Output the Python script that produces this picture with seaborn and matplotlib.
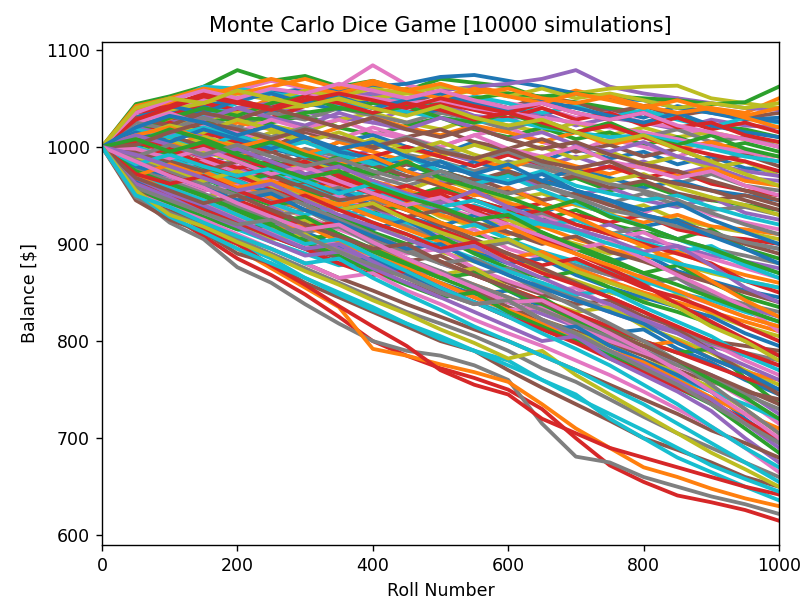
import seaborn as sns
import matplotlib.pyplot as plt
import pandas as pd

# Roll checkpoints (every 50 rolls) and balances of representative walks
rolls = list(range(0, 1001, 50))

# walks along the upper edge of the fan
upper_walks = [
    [1000, 1044, 1052, 1062, 1079, 1068, 1073, 1062, 1068, 1058, 1070, 1066, 1062, 1050, 1046, 1040, 1035, 1030, 1022, 1018, 1010],
    [1000, 1030, 1040, 1048, 1055, 1058, 1050, 1062, 1084, 1064, 1055, 1050, 1045, 1040, 1030, 1035, 1025, 1020, 1012, 1008, 1000],
    [1000, 1020, 1035, 1042, 1050, 1055, 1060, 1058, 1062, 1065, 1072, 1074, 1068, 1062, 1055, 1050, 1048, 1040, 1035, 1030, 1026],
    [1000, 1015, 1025, 1030, 1040, 1045, 1048, 1052, 1055, 1050, 1058, 1062, 1065, 1070, 1079, 1062, 1055, 1050, 1045, 1040, 1038],
    [1000, 1010, 1022, 1028, 1035, 1040, 1042, 1048, 1050, 1055, 1052, 1058, 1055, 1050, 1055, 1060, 1062, 1063, 1050, 1045, 1040],
    [1000, 1012, 1018, 1025, 1030, 1028, 1035, 1040, 1045, 1042, 1048, 1050, 1055, 1052, 1055, 1052, 1050, 1048, 1044, 1046, 1062],
    [1000, 1025, 1040, 1050, 1058, 1068, 1060, 1055, 1050, 1045, 1048, 1040, 1035, 1030, 1025, 1020, 1015, 1008, 1000, 995, 990],
    [1000, 1030, 1045, 1062, 1060, 1055, 1050, 1044, 1040, 1036, 1030, 1025, 1028, 1020, 1015, 1010, 1012, 1005, 998, 990, 985],
]

# walks along the lower edge of the fan
lower_walks = [
    [1000, 955, 930, 908, 885, 868, 848, 825, 800, 785, 772, 762, 750, 730, 700, 672, 655, 641, 634, 626, 615],
    [1000, 950, 922, 905, 876, 860, 838, 818, 800, 790, 785, 775, 760, 715, 681, 675, 660, 650, 640, 632, 622],
    [1000, 960, 935, 915, 895, 875, 855, 835, 792, 785, 776, 768, 758, 735, 710, 690, 670, 660, 648, 638, 630],
    [1000, 945, 925, 912, 890, 880, 860, 845, 830, 815, 800, 790, 770, 752, 735, 718, 700, 688, 675, 660, 650],
    [1000, 965, 940, 920, 900, 885, 865, 850, 835, 818, 805, 790, 780, 760, 745, 720, 700, 680, 665, 650, 636],
    [1000, 958, 935, 915, 900, 878, 858, 836, 815, 795, 770, 755, 745, 720, 705, 690, 680, 670, 660, 650, 642],
]

# walks through the body of the fan
inner_walks = [
    [1000, 1012, 1030, 1025, 1040, 1035, 1045, 1038, 1050, 1042, 1035, 1048, 1040, 1032, 1045, 1038, 1030, 1042, 1035, 1028, 1030],
    [1000, 1022, 1015, 1035, 1028, 1042, 1036, 1030, 1025, 1040, 1045, 1032, 1028, 1035, 1022, 1030, 1025, 1018, 1028, 1022, 1020],
    [1000, 1005, 1020, 1012, 1030, 1022, 1015, 1028, 1035, 1025, 1018, 1030, 1022, 1015, 1025, 1012, 1020, 1010, 1015, 1008, 1005],
    [1000, 990, 1005, 1018, 1010, 1025, 1032, 1020, 1012, 1022, 1030, 1018, 1010, 1020, 1008, 1015, 1002, 1010, 998, 1004, 995],
    [1000, 1018, 1008, 1000, 1015, 1005, 1020, 1028, 1015, 1008, 1000, 1012, 1020, 1005, 995, 1008, 1000, 990, 1002, 992, 985],
    [1000, 995, 985, 1000, 1010, 998, 990, 1005, 1012, 1000, 992, 1005, 995, 985, 998, 988, 995, 982, 990, 978, 975],
    [1000, 1008, 1020, 1010, 998, 1005, 995, 985, 998, 1008, 995, 985, 992, 980, 990, 978, 985, 972, 980, 968, 965],
    [1000, 985, 995, 1008, 995, 985, 998, 990, 980, 992, 985, 975, 985, 978, 968, 980, 970, 962, 972, 960, 955],
    [1000, 1002, 990, 980, 995, 1002, 988, 978, 990, 982, 970, 985, 975, 965, 978, 968, 958, 965, 955, 950, 945],
    [1000, 990, 1000, 988, 975, 985, 978, 990, 980, 968, 975, 965, 972, 960, 968, 955, 962, 950, 945, 940, 935],
    [1000, 1010, 998, 990, 1002, 990, 980, 972, 985, 975, 965, 958, 970, 960, 950, 958, 945, 938, 948, 932, 925],
    [1000, 985, 975, 990, 980, 968, 978, 965, 958, 970, 960, 950, 958, 945, 952, 940, 932, 945, 930, 922, 915],
    [1000, 995, 1008, 995, 985, 972, 985, 975, 962, 955, 968, 955, 945, 952, 940, 932, 940, 925, 918, 912, 905],
    [1000, 980, 992, 978, 970, 982, 968, 955, 965, 950, 942, 955, 940, 932, 945, 930, 918, 925, 910, 902, 895],
    [1000, 1005, 992, 1000, 985, 975, 962, 972, 958, 948, 958, 945, 935, 925, 935, 920, 912, 905, 915, 895, 885],
    [1000, 988, 975, 965, 978, 962, 955, 945, 958, 942, 935, 925, 938, 922, 912, 920, 905, 898, 888, 882, 875],
    [1000, 992, 1002, 988, 975, 965, 972, 958, 945, 952, 938, 928, 918, 930, 915, 905, 912, 895, 885, 875, 865],
    [1000, 975, 965, 978, 962, 950, 958, 942, 932, 945, 928, 918, 925, 910, 900, 890, 898, 880, 870, 862, 855],
    [1000, 1000, 985, 975, 968, 955, 945, 955, 940, 928, 918, 930, 912, 902, 895, 882, 890, 872, 862, 852, 845],
    [1000, 985, 995, 978, 965, 972, 955, 945, 932, 940, 922, 910, 902, 912, 895, 882, 870, 878, 860, 845, 835],
    [1000, 978, 968, 955, 962, 948, 935, 928, 938, 920, 910, 898, 905, 888, 878, 868, 858, 865, 845, 835, 825],
    [1000, 992, 978, 985, 970, 955, 942, 950, 932, 918, 908, 915, 895, 885, 875, 862, 868, 850, 838, 825, 815],
    [1000, 970, 960, 948, 955, 940, 928, 915, 922, 905, 892, 882, 890, 872, 862, 850, 842, 848, 828, 815, 805],
    [1000, 988, 975, 962, 950, 958, 940, 928, 915, 925, 905, 892, 880, 885, 868, 855, 845, 835, 825, 808, 795],
    [1000, 975, 985, 968, 952, 940, 945, 928, 912, 900, 908, 890, 875, 865, 872, 855, 840, 830, 818, 800, 785],
    [1000, 965, 952, 945, 930, 938, 920, 905, 892, 898, 880, 868, 855, 860, 842, 830, 818, 808, 795, 785, 775],
    [1000, 982, 968, 955, 960, 942, 928, 915, 902, 890, 895, 875, 862, 850, 855, 835, 822, 810, 798, 780, 765],
    [1000, 972, 960, 945, 932, 920, 925, 908, 895, 880, 868, 875, 855, 842, 830, 835, 815, 802, 788, 770, 755],
    [1000, 968, 955, 940, 925, 930, 912, 898, 885, 872, 860, 848, 852, 835, 820, 808, 812, 792, 778, 760, 745],
    [1000, 975, 962, 948, 932, 918, 905, 910, 892, 878, 865, 852, 840, 845, 825, 812, 800, 788, 792, 762, 735],
    [1000, 962, 948, 935, 940, 922, 908, 895, 880, 868, 872, 855, 840, 828, 815, 802, 790, 778, 765, 748, 725],
    [1000, 970, 958, 942, 928, 912, 898, 902, 885, 870, 858, 845, 832, 835, 815, 800, 788, 775, 760, 740, 715],
    [1000, 958, 945, 932, 918, 905, 910, 892, 878, 865, 850, 838, 842, 822, 808, 795, 780, 768, 752, 730, 705],
    [1000, 965, 950, 938, 922, 908, 895, 880, 885, 868, 852, 840, 825, 812, 815, 795, 780, 765, 748, 720, 695],
    [1000, 955, 942, 928, 915, 920, 902, 888, 872, 858, 845, 850, 830, 815, 800, 785, 770, 752, 735, 710, 685],
    [1000, 962, 948, 932, 918, 902, 888, 892, 875, 860, 845, 830, 815, 800, 805, 782, 765, 748, 728, 700, 675],
    [1000, 952, 938, 925, 910, 895, 880, 865, 870, 852, 838, 822, 808, 795, 780, 765, 748, 730, 712, 690, 665],
    [1000, 1025, 1038, 1045, 1055, 1048, 1058, 1052, 1060, 1055, 1062, 1058, 1052, 1060, 1050, 1055, 1048, 1040, 1045, 1040, 1045],
    [1000, 1030, 1042, 1035, 1048, 1055, 1045, 1052, 1040, 1048, 1055, 1045, 1038, 1048, 1040, 1032, 1025, 1035, 1022, 1015, 1010],
    [1000, 1015, 1030, 1040, 1032, 1045, 1052, 1040, 1035, 1042, 1030, 1025, 1035, 1022, 1015, 1025, 1010, 1002, 1012, 998, 990],
    [1000, 1020, 1012, 1028, 1040, 1030, 1022, 1035, 1025, 1018, 1030, 1020, 1008, 1015, 1002, 995, 1005, 990, 982, 975, 970],
    [1000, 1025, 1035, 1022, 1015, 1028, 1018, 1008, 1020, 1010, 1000, 1012, 998, 990, 1000, 985, 978, 968, 975, 960, 950],
    [1000, 1010, 1022, 1015, 1028, 1018, 1005, 1015, 1002, 995, 1005, 992, 982, 990, 975, 965, 972, 958, 948, 940, 930],
    [1000, 1015, 1005, 1018, 1008, 998, 1010, 995, 988, 975, 985, 970, 962, 972, 955, 945, 935, 942, 925, 912, 900],
    [1000, 1005, 1018, 1008, 995, 1005, 992, 982, 972, 985, 968, 958, 948, 935, 945, 928, 918, 905, 895, 882, 870],
    [1000, 1012, 1002, 990, 998, 985, 972, 980, 965, 952, 942, 955, 938, 925, 915, 905, 892, 898, 878, 855, 840],
    [1000, 998, 988, 998, 985, 972, 980, 965, 952, 940, 948, 932, 920, 908, 895, 902, 885, 868, 852, 835, 810],
    [1000, 990, 978, 965, 975, 960, 948, 935, 942, 925, 912, 900, 905, 888, 872, 860, 848, 835, 815, 800, 780],
    [1000, 980, 970, 958, 945, 952, 935, 922, 908, 895, 900, 882, 868, 855, 842, 830, 818, 798, 782, 768, 750],
    [1000, 975, 962, 950, 935, 922, 928, 910, 895, 880, 865, 870, 852, 838, 822, 808, 795, 780, 760, 742, 720],
    [1000, 968, 952, 940, 925, 910, 895, 900, 882, 865, 850, 838, 842, 822, 805, 790, 775, 758, 740, 715, 690],
    [1000, 1035, 1048, 1058, 1050, 1060, 1055, 1065, 1058, 1050, 1058, 1048, 1040, 1045, 1035, 1028, 1035, 1022, 1015, 1008, 1000],
    [1000, 1040, 1050, 1045, 1058, 1050, 1042, 1050, 1040, 1032, 1042, 1030, 1022, 1028, 1015, 1005, 1012, 998, 985, 972, 960],
    [1000, 1020, 1032, 1025, 1012, 1022, 1010, 998, 1005, 990, 980, 972, 982, 965, 955, 945, 930, 922, 908, 895, 880],
    [1000, 1008, 995, 1005, 992, 980, 968, 975, 960, 948, 938, 925, 930, 912, 898, 885, 870, 858, 845, 832, 820],
    [1000, 992, 980, 968, 955, 962, 945, 930, 918, 905, 892, 898, 880, 865, 850, 838, 822, 808, 790, 775, 760],
    [1000, 985, 970, 958, 942, 928, 915, 920, 902, 885, 870, 855, 840, 842, 825, 808, 790, 770, 748, 725, 700],
    [1000, 955, 930, 918, 902, 888, 872, 858, 842, 828, 812, 798, 782, 790, 765, 745, 725, 705, 685, 668, 650],
]

# further walks filling the body of the fan
more_walks = [
    [1000, 1020, 1028, 1040, 1035, 1050, 1058, 1045, 1052, 1060, 1050, 1062, 1055, 1048, 1058, 1050, 1042, 1050, 1040, 1035, 1050],
    [1000, 1008, 1025, 1038, 1048, 1040, 1052, 1060, 1050, 1045, 1055, 1048, 1040, 1052, 1045, 1035, 1042, 1032, 1038, 1030, 1035],
    [1000, 1028, 1020, 1032, 1045, 1058, 1050, 1042, 1055, 1048, 1040, 1052, 1045, 1035, 1042, 1030, 1038, 1028, 1020, 1030, 1025],
    [1000, 1015, 1032, 1045, 1038, 1030, 1042, 1050, 1040, 1035, 1045, 1038, 1030, 1040, 1028, 1035, 1022, 1030, 1018, 1025, 1015],
    [1000, 1002, 1015, 1008, 1020, 1035, 1028, 1040, 1032, 1025, 1035, 1028, 1018, 1028, 1015, 1022, 1010, 1018, 1005, 1010, 1000],
    [1000, 1012, 1000, 1012, 1025, 1018, 1008, 1020, 1030, 1020, 1012, 1022, 1015, 1005, 1015, 1002, 1010, 998, 1005, 995, 990],
    [1000, 995, 1010, 1022, 1012, 1000, 1015, 1008, 998, 1010, 1018, 1005, 998, 1008, 995, 1002, 990, 998, 985, 992, 980],
    [1000, 1005, 995, 1010, 1002, 1015, 1005, 995, 1008, 998, 990, 1002, 992, 1000, 988, 995, 982, 990, 978, 985, 970],
    [1000, 992, 1005, 995, 988, 1000, 992, 1005, 995, 985, 995, 988, 978, 990, 980, 972, 982, 970, 978, 965, 960],
    [1000, 1015, 1025, 1015, 1005, 995, 1008, 998, 990, 1000, 990, 980, 992, 982, 972, 980, 968, 975, 962, 955, 950],
    [1000, 980, 990, 1000, 990, 978, 990, 980, 970, 982, 975, 965, 975, 962, 970, 958, 965, 952, 945, 950, 940],
    [1000, 998, 985, 975, 988, 978, 968, 980, 970, 960, 970, 962, 952, 960, 950, 942, 952, 940, 935, 938, 930],
    [1000, 1020, 1010, 1000, 1012, 1000, 990, 998, 985, 975, 985, 972, 965, 975, 960, 952, 945, 950, 938, 928, 920],
    [1000, 975, 985, 972, 962, 975, 965, 955, 965, 955, 945, 952, 942, 935, 942, 930, 922, 930, 918, 915, 910],
    [1000, 990, 978, 990, 978, 968, 955, 968, 958, 948, 955, 945, 935, 942, 930, 922, 930, 915, 908, 905, 900],
    [1000, 1002, 1012, 1000, 988, 995, 982, 972, 982, 970, 960, 968, 955, 945, 952, 940, 930, 922, 912, 900, 890],
    [1000, 982, 972, 962, 972, 960, 950, 958, 945, 935, 945, 932, 925, 932, 920, 910, 918, 905, 895, 888, 880],
    [1000, 995, 982, 972, 962, 972, 960, 948, 955, 942, 932, 940, 928, 918, 925, 912, 902, 892, 898, 880, 870],
    [1000, 970, 980, 968, 958, 948, 958, 945, 935, 942, 930, 920, 910, 918, 905, 895, 885, 892, 878, 868, 860],
    [1000, 1010, 1000, 990, 978, 985, 972, 962, 952, 960, 948, 938, 928, 935, 920, 910, 900, 890, 880, 862, 850],
    [1000, 985, 972, 982, 968, 955, 962, 950, 938, 928, 935, 922, 912, 900, 908, 892, 882, 870, 860, 850, 840],
    [1000, 968, 958, 948, 958, 945, 935, 925, 932, 918, 905, 895, 902, 888, 878, 868, 858, 865, 848, 838, 830],
    [1000, 1000, 988, 975, 965, 952, 960, 945, 932, 922, 912, 920, 905, 892, 882, 872, 862, 850, 842, 830, 820],
    [1000, 978, 965, 975, 960, 948, 935, 942, 928, 915, 902, 895, 885, 892, 875, 862, 850, 840, 830, 820, 810],
    [1000, 990, 998, 982, 970, 958, 945, 935, 942, 928, 915, 902, 890, 878, 885, 870, 855, 845, 832, 815, 800],
    [1000, 960, 950, 940, 928, 935, 922, 908, 895, 882, 888, 872, 860, 848, 838, 842, 825, 812, 800, 795, 790],
    [1000, 975, 962, 950, 940, 928, 935, 918, 905, 892, 880, 868, 875, 858, 845, 832, 820, 810, 798, 788, 780],
    [1000, 992, 980, 968, 955, 942, 930, 938, 922, 910, 898, 885, 872, 860, 848, 852, 835, 820, 805, 785, 770],
    [1000, 965, 955, 942, 932, 918, 905, 892, 898, 882, 870, 858, 845, 832, 820, 808, 795, 800, 782, 768, 760],
    [1000, 985, 972, 958, 945, 932, 918, 922, 908, 895, 882, 868, 855, 842, 828, 815, 800, 788, 775, 762, 750],
    [1000, 958, 948, 935, 922, 910, 898, 885, 872, 860, 848, 852, 835, 822, 810, 798, 785, 770, 758, 748, 740],
    [1000, 978, 965, 952, 938, 925, 912, 918, 900, 885, 872, 858, 845, 832, 818, 805, 790, 775, 762, 745, 730],
    [1000, 950, 940, 928, 915, 902, 890, 878, 882, 865, 852, 840, 828, 815, 802, 788, 775, 762, 748, 735, 720],
    [1000, 972, 958, 945, 930, 915, 920, 902, 888, 875, 860, 845, 832, 818, 805, 790, 778, 760, 742, 725, 710],
    [1000, 962, 950, 935, 922, 908, 895, 880, 868, 872, 855, 840, 825, 812, 798, 782, 768, 752, 738, 718, 700],
    [1000, 955, 935, 922, 908, 895, 880, 865, 852, 838, 825, 812, 800, 785, 770, 755, 740, 725, 708, 695, 680],
    [1000, 948, 932, 918, 905, 890, 875, 860, 845, 830, 818, 805, 790, 772, 758, 740, 722, 705, 690, 675, 660],
    [1000, 952, 928, 912, 895, 880, 865, 848, 832, 818, 802, 790, 775, 760, 742, 725, 708, 690, 672, 658, 645],
    [1000, 1038, 1045, 1052, 1062, 1070, 1062, 1055, 1065, 1058, 1050, 1060, 1052, 1045, 1055, 1048, 1040, 1048, 1038, 1032, 1040],
    [1000, 1035, 1042, 1055, 1048, 1040, 1052, 1045, 1035, 1045, 1038, 1028, 1035, 1025, 1015, 1022, 1010, 1000, 992, 985, 975],
    [1000, 1030, 1022, 1035, 1028, 1040, 1030, 1020, 1030, 1018, 1010, 1020, 1008, 998, 1005, 992, 982, 975, 965, 955, 945],
    [1000, 1025, 1018, 1030, 1020, 1010, 1020, 1008, 1000, 1010, 998, 988, 995, 982, 972, 962, 955, 945, 932, 920, 910],
    [1000, 1018, 1010, 1020, 1010, 998, 1005, 992, 982, 990, 975, 962, 970, 955, 942, 930, 918, 905, 892, 878, 865],
    [1000, 1012, 1020, 1008, 1000, 1008, 995, 982, 990, 975, 962, 950, 958, 942, 928, 912, 898, 882, 862, 842, 825],
    [1000, 1005, 995, 1002, 990, 978, 985, 970, 958, 945, 952, 935, 920, 905, 890, 875, 858, 838, 820, 802, 785],
    [1000, 995, 985, 975, 985, 970, 958, 945, 950, 935, 920, 905, 890, 875, 860, 845, 830, 812, 790, 768, 745],
    [1000, 988, 975, 962, 950, 955, 940, 925, 910, 895, 880, 885, 868, 852, 835, 818, 800, 780, 755, 730, 705],
    [1000, 975, 958, 945, 930, 915, 900, 905, 888, 872, 855, 840, 825, 808, 792, 775, 755, 735, 712, 690, 670],
    [1000, 1042, 1050, 1060, 1055, 1062, 1070, 1060, 1068, 1058, 1065, 1055, 1060, 1050, 1045, 1052, 1042, 1035, 1040, 1030, 1020],
    [1000, 1028, 1040, 1052, 1045, 1038, 1048, 1055, 1048, 1040, 1050, 1042, 1035, 1045, 1035, 1028, 1035, 1020, 1025, 1012, 1005],
    [1000, 1002, 1015, 1025, 1018, 1008, 1018, 1010, 1000, 1008, 995, 988, 998, 985, 978, 985, 970, 962, 955, 945, 935],
    [1000, 990, 1002, 992, 1002, 990, 980, 988, 975, 965, 975, 962, 952, 960, 948, 935, 928, 918, 912, 902, 895],
    [1000, 982, 992, 980, 970, 978, 965, 952, 962, 950, 938, 945, 932, 920, 912, 900, 890, 880, 872, 862, 855],
    [1000, 970, 982, 970, 958, 965, 952, 940, 948, 935, 922, 910, 918, 902, 890, 878, 865, 852, 838, 825, 815],
    [1000, 972, 962, 970, 955, 942, 950, 935, 922, 910, 895, 902, 885, 870, 858, 845, 830, 815, 800, 788, 775],
    [1000, 968, 955, 942, 950, 935, 920, 908, 895, 900, 882, 868, 855, 840, 825, 810, 795, 780, 765, 750, 735],
    [1000, 958, 945, 932, 920, 925, 908, 892, 878, 865, 850, 838, 842, 822, 808, 790, 772, 755, 735, 715, 695],
    [1000, 950, 938, 922, 908, 895, 880, 885, 865, 848, 832, 815, 800, 785, 770, 752, 735, 715, 695, 675, 655],
]

# interleave the groups so neighbouring walks get varied colours
groups = (inner_walks, more_walks, upper_walks, lower_walks)
walks = []
for i in range(max(len(g) for g in groups)):
    for g in groups:
        if i < len(g):
            walks.append(g[i])

rows = []
for sim, balances in enumerate(walks):
    for r, b in zip(rolls, balances):
        rows.append({"sim": sim, "roll": r, "balance": b})
df = pd.DataFrame(rows)

palette = (sns.color_palette("tab10") * (len(walks) // 10 + 1))[:len(walks)]

fig = plt.figure(figsize=(6.408, 4.832), dpi=125)
ax = fig.add_axes([0.1273, 0.0977, 0.8452, 0.8328])

sns.lineplot(
    data=df, x="roll", y="balance", hue="sim", palette=palette,
    estimator=None, legend=False, linewidth=2.2, ax=ax,
)

ax.set_xlim(0, 1000)
ax.set_ylim(590, 1108)
ax.set_title("Monte Carlo Dice Game [10000 simulations]")
ax.set_xlabel("Roll Number")
ax.set_ylabel("Balance [$]")

fig.savefig("out.png", dpi=125)
plt.close(fig)
